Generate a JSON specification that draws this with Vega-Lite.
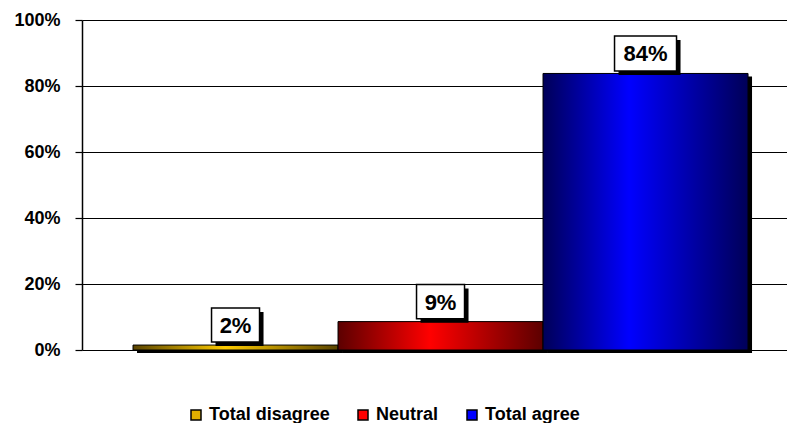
{
  "$schema": "https://vega.github.io/schema/vega-lite/v6.json",
  "width": 705,
  "height": 330,
  "autosize": {"type": "none"},
  "padding": {"left": 82, "top": 20, "right": 0, "bottom": 73},
  "background": "white",
  "data": {
    "values": [
      {"cat": "Total disagree", "value": 0.015, "label": "2%"},
      {"cat": "Neutral", "value": 0.086, "label": "9%"},
      {"cat": "Total agree", "value": 0.838, "label": "84%"}
    ]
  },
  "encoding": {
    "x": {
      "field": "cat", "type": "nominal", "sort": null,
      "scale": {"paddingInner": 0, "paddingOuter": 0.2195, "align": 0.567},
      "axis": null
    },
    "y": {
      "field": "value", "type": "quantitative",
      "scale": {"domain": [0, 1], "nice": false},
      "axis": {
        "values": [0, 0.2, 0.4, 0.6, 0.8, 1],
        "format": ".0%",
        "title": null,
        "grid": true,
        "gridColor": "#000000",
        "gridOpacity": 1,
        "gridWidth": 1.2,
        "domainColor": "#000000",
        "domainWidth": 1.5,
        "tickColor": "#000000",
        "tickSize": 7,
        "tickWidth": 1.2,
        "labelFont": "Liberation Sans",
        "labelFontSize": 18,
        "labelFontWeight": "bold",
        "labelColor": "#000000",
        "labelPadding": 15
      }
    }
  },
  "layer": [
    {
      "mark": {"type": "bar", "color": "#000000", "xOffset": 4, "yOffset": 3}
    },
    {
      "mark": {"type": "bar"},
      "encoding": {
        "color": {
          "field": "cat", "type": "nominal", "sort": null,
          "scale": {"domain": ["Total disagree", "Neutral", "Total agree"], "range": ["#e0b000", "#ff0000", "#0000ff"]},
          "legend": {
            "orient": "none",
            "legendX": 105,
            "legendY": 386,
            "direction": "horizontal",
            "title": null,
            "symbolType": "square",
            "symbolSize": 100,
            "symbolStrokeColor": "#000000",
            "symbolStrokeWidth": 1.5,
            "symbolOpacity": 1,
            "labelFont": "Liberation Sans",
            "labelFontSize": 18,
            "labelFontWeight": "bold",
            "labelColor": "#000000",
            "labelOffset": 4,
            "columnPadding": 24
          }
        }
      }
    },
    {
      "transform": [{"filter": "datum.cat === 'Total disagree'"}],
      "mark": {
        "type": "bar", "stroke": "#000000", "strokeWidth": 1,
        "fill": {"gradient": "linear", "x1": 0, "x2": 1, "y1": 0, "y2": 0,
          "stops": [{"offset": 0, "color": "#5a4400"}, {"offset": 0.45, "color": "#ffcc00"}, {"offset": 1, "color": "#5a4400"}]}
      }
    },
    {
      "transform": [{"filter": "datum.cat === 'Neutral'"}],
      "mark": {
        "type": "bar", "stroke": "#000000", "strokeWidth": 1,
        "fill": {"gradient": "linear", "x1": 0, "x2": 1, "y1": 0, "y2": 0,
          "stops": [{"offset": 0, "color": "#5c0000"}, {"offset": 0.45, "color": "#ff0000"}, {"offset": 1, "color": "#5c0000"}]}
      }
    },
    {
      "transform": [{"filter": "datum.cat === 'Total agree'"}],
      "mark": {
        "type": "bar", "stroke": "#000000", "strokeWidth": 1,
        "fill": {"gradient": "linear", "x1": 0, "x2": 1, "y1": 0, "y2": 0,
          "stops": [{"offset": 0, "color": "#000058"}, {"offset": 0.42, "color": "#0000ff"}, {"offset": 1, "color": "#000058"}]}
      }
    },
    {
      "mark": {"type": "point", "filled": true, "fill": "#000000", "opacity": 1, "strokeWidth": 0, "xOffset": 4, "yOffset": -16},
      "encoding": {
        "shape": {"condition": {"test": "length(datum.label) > 2", "value": "M-1,-0.565L1,-0.565L1,0.565L-1,0.565Z"}, "value": "M-1,-0.71L1,-0.71L1,0.71L-1,0.71Z"},
        "size": {"condition": {"test": "length(datum.label) > 2", "value": 3844}, "value": 2304}
      }
    },
    {
      "mark": {"type": "point", "filled": true, "fill": "#ffffff", "opacity": 1, "stroke": "#000000", "strokeWidth": 1.5, "yOffset": -20},
      "encoding": {
        "shape": {"condition": {"test": "length(datum.label) > 2", "value": "M-1,-0.565L1,-0.565L1,0.565L-1,0.565Z"}, "value": "M-1,-0.71L1,-0.71L1,0.71L-1,0.71Z"},
        "size": {"condition": {"test": "length(datum.label) > 2", "value": 3844}, "value": 2304}
      }
    },
    {
      "mark": {"type": "text", "font": "Liberation Sans", "fontSize": 22, "fontWeight": "bold", "color": "#000000", "baseline": "middle", "align": "center", "yOffset": -19},
      "encoding": {"text": {"field": "label"}}
    }
  ],
  "config": {"view": {"stroke": null}}
}
